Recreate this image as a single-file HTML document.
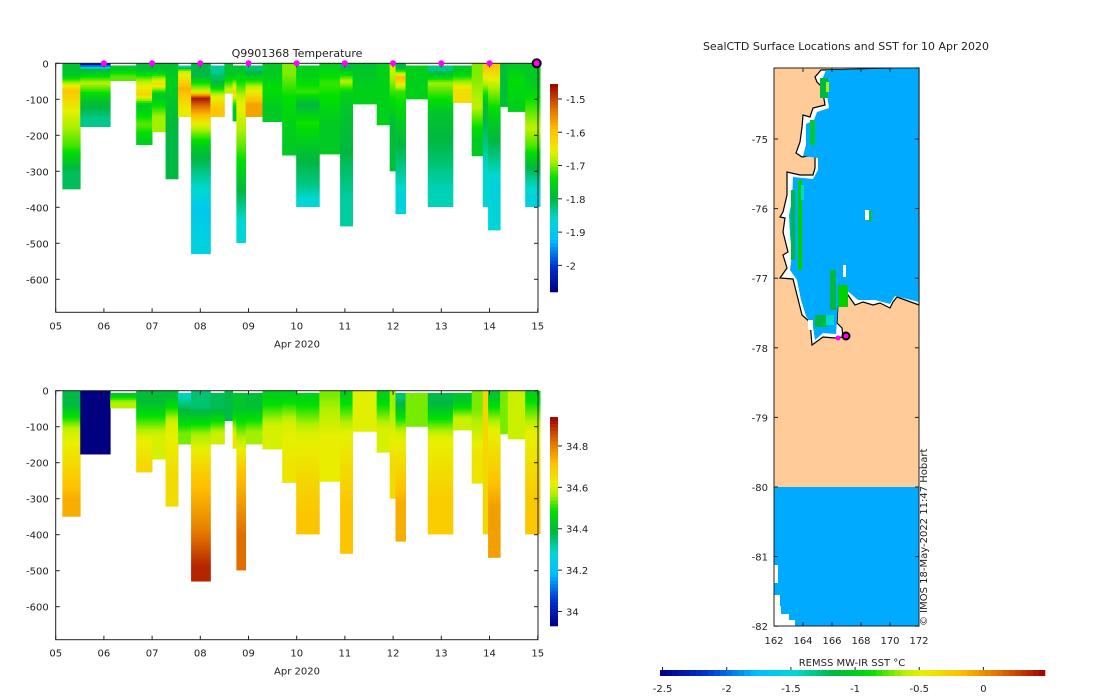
<!DOCTYPE html>
<html><head><meta charset="utf-8">
<style>
body{margin:0;background:#fff;}
svg{display:block;font-family:"DejaVu Sans","Liberation Sans",sans-serif;}
text{fill:#222;font-size:10px;}
</style></head>
<body>
<svg id="fig" width="1100" height="696" viewBox="0 0 1100 696" xmlns="http://www.w3.org/2000/svg">
<g id="top"></g>
<g id="bot"></g>
<g id="map"></g>
</svg>
<script>
// ---------- data ----------
const profStart=[0.14,0.51,1.13,1.67,2.0,2.28,2.54,2.81,3.21,3.5,3.67,3.75,3.94,4.29,4.7,4.99,5.47,5.9,6.16,6.66,6.93,7.05,7.26,7.72,8.24,8.63,8.86,8.97,9.22,9.38,9.74];
const profEnd=[0.51,1.13,1.67,2.0,2.28,2.54,2.81,3.21,3.5,3.67,3.75,3.94,4.29,4.7,4.99,5.47,5.9,6.16,6.66,6.93,7.05,7.26,7.72,8.24,8.63,8.86,8.97,9.22,9.38,9.74,10.05];
const profBottom=[349,176,48,226,190,321,148,529,148,83,160,498,148,162,255,398,252,452,113,171,299,418,99,398,109,257,398,463,120,134,398];
const tempDepths=[[0,65,85,210,255],[0,5,30,80,130],[6,25],[0,30,80,95,140,200],[0,40,75,105],[0,30,60],[6,12,30,110],[0,65,90,105,150,200,280,380,440],[6,25,80,105],[0,60],[6,55,100],[6,30,200,260,400],[6,30,50,80],[0,55,90],[0,60,140,200],[6,60,100,130,200,310,370],[0,30,80],[0,25,75,95,200,300],[0,30],[0],[0,20],[0,25,55,100,280,340],[6],[6,30,80,200,300],[6,40],[0,70,170],[0,20,200],[0,20,100,200,300,380],[0],[0,20,80],[0,100,140,220,250,300,350]];
const tempVals=[[-1.78,-1.6,-1.67,-1.72,-1.81],[-2.05,-1.8,-1.68,-1.78,-1.83],[-1.77,-1.71],[-1.79,-1.67,-1.62,-1.77,-1.71,-1.76],[-1.78,-1.63,-1.78,-1.69],[-1.78,-1.76,-1.8],[-1.85,-1.68,-1.58,-1.65],[-1.8,-1.67,-1.47,-1.55,-1.67,-1.78,-1.85,-1.9,-1.88],[-1.84,-1.8,-1.66,-1.6],[-1.78,-1.68],[-1.78,-1.62,-1.78],[-1.78,-1.65,-1.71,-1.78,-1.87],[-1.82,-1.76,-1.68,-1.57],[-1.77,-1.74,-1.77],[-1.7,-1.74,-1.76,-1.77],[-1.76,-1.72,-1.8,-1.73,-1.79,-1.83,-1.87],[-1.76,-1.72,-1.77],[-1.8,-1.68,-1.76,-1.78,-1.8,-1.84],[-1.78,-1.76],[-1.76],[-1.66,-1.79],[-1.8,-1.58,-1.72,-1.78,-1.84,-1.88],[-1.76],[-1.83,-1.69,-1.78,-1.81,-1.85],[-1.77,-1.63],[-1.7,-1.68,-1.77],[-1.6,-1.78,-1.86],[-1.6,-1.68,-1.76,-1.82,-1.88,-1.87],[-1.79],[-1.77,-1.74,-1.76],[-1.77,-1.72,-1.68,-1.72,-1.78,-1.84,-1.88]];
const salDepths=[[0,70,150,250],[0],[6,15],[0,60,200],[0,60],[0,30,150],[6,30,90],[0,90,150,300,450],[6,90],[0],[6,100],[6,100,150,300],[6,80],[0,40],[0,30,150],[6,30,200,300],[0,20],[0,30,200],[0],[0,40],[0,100],[6,40,200],[6],[6,60,200],[6,50],[0,100],[0],[0,30,180],[0],[0],[0,20,200]];
const salVals=[[34.38,34.59,34.66,34.74],[33.9],[34.42,34.57],[34.4,34.61,34.67],[34.4,34.6],[34.4,34.6,34.66],[34.3,34.4,34.54],[34.35,34.56,34.69,34.79,34.9],[34.37,34.59],[34.38],[34.42,34.64],[34.42,34.56,34.71,34.82],[34.4,34.56],[34.45,34.6],[34.45,34.6,34.64],[34.45,34.6,34.67,34.71],[34.54,34.62],[34.45,34.61,34.71],[34.61],[34.45,34.6],[34.56,34.66],[34.35,34.6,34.74],[34.54],[34.38,34.61,34.69],[34.42,34.59],[34.54,34.64],[34.67],[34.42,34.61,34.76],[34.54],[34.59],[34.45,34.61,34.7]];
const surfaceDays=[1,2,3,4,5,6,7,8,9];
const xTickLabels=["05","06","07","08","09","10","11","12","13","14","15"];
const yTicks=[0,-100,-200,-300,-400,-500,-600];
const tempCbTicks=[-1.5,-1.6,-1.7,-1.8,-1.9,-2];
const salCbTicks=[34.8,34.6,34.4,34.2,34];
const sstTicks=[-2.5,-2,-1.5,-1,-0.5,0];
const latTicks=[-75,-76,-77,-78,-79,-80,-81,-82];
const lonTicks=[162,164,166,168,170,172];

// ---------- helpers ----------
const NS="http://www.w3.org/2000/svg";
function mk(parent,tag,attrs,txt){const e=document.createElementNS(NS,tag);for(const k in attrs)e.setAttribute(k,attrs[k]);if(txt!==undefined)e.textContent=txt;parent.appendChild(e);return e;}
const stops=[[0,[0,0,128]],[0.12,[0,48,208]],[0.25,[0,191,255]],[0.35,[0,216,208]],[0.45,[0,184,64]],[0.55,[0,224,0]],[0.63,[176,240,0]],[0.68,[232,240,0]],[0.78,[255,192,0]],[0.88,[224,112,0]],[1,[160,0,0]]];
function cmap(f){f=Math.max(0,Math.min(1,f));for(let i=1;i<stops.length;i++){if(f<=stops[i][0]){const a=stops[i-1],b=stops[i];const t=(f-a[0])/(b[0]-a[0]);const c=a[1].map((v,j)=>Math.round(v+(b[1][j]-v)*t));return `rgb(${c[0]},${c[1]},${c[2]})`;}}return "rgb(160,0,0)";}
function valAt(ds,vs,bot,d){
  // node positions at segment midpoints, linear between
  const pos=ds.map((d0,j)=>{const d1=(j+1<ds.length)?ds[j+1]:bot;return (d0+d1)/2;});
  if(d<=pos[0])return vs[0];
  for(let j=1;j<pos.length;j++){if(d<=pos[j]){const t=(d-pos[j-1])/(pos[j]-pos[j-1]);return vs[j-1]+(vs[j]-vs[j-1])*t;}}
  return vs[vs.length-1];
}

const X0=55.7,DX=48.2;
function xs(d){return X0+d*DX;}
const R=538;

function panel(g,top,depths,vals,lo,hi,cbTop,cbBot,cbTicks,cbName,isTop){
  const ys=d=>top+d*0.36;
  const bottom=top+249;
  const BIN=5;
  for(let i=0;i<profStart.length;i++){
    const ds=depths[i],vs=vals[i];
    for(let d0=ds[0];d0<profBottom[i];d0+=BIN){
      const d1=Math.min(d0+BIN,profBottom[i]);
      const v=valAt(ds,vs,profBottom[i],(d0+d1)/2);
      const r=mk(g,"rect",{x:xs(profStart[i]).toFixed(1),y:ys(d0).toFixed(1),width:(xs(profEnd[i])-xs(profStart[i])+0.4).toFixed(1),height:(ys(d1)-ys(d0)+0.4).toFixed(2),fill:cmap((v-lo)/(hi-lo))});
      
      
    }
  }
  const fr=mk(g,"rect",{x:X0,y:top,width:R-X0,height:249,fill:"none",stroke:"#222","stroke-width":1});
  
  
  for(let k=0;k<xTickLabels.length;k++){
    const x=xs(k);
    mk(g,"line",{x1:x,y1:bottom,x2:x,y2:bottom-4,stroke:"#222"});
    mk(g,"line",{x1:x,y1:top,x2:x,y2:top+4,stroke:"#222"});
    const t=mk(g,"text",{x:x,y:bottom+17,"text-anchor":"middle"},xTickLabels[k]);
    
    
  }
  for(const v of yTicks){
    const y=ys(-v);
    mk(g,"line",{x1:X0,y1:y,x2:X0+4,y2:y,stroke:"#222"});
    mk(g,"line",{x1:R,y1:y,x2:R-4,y2:y,stroke:"#222"});
    const t=mk(g,"text",{x:X0-7,y:y+4,"text-anchor":"end"},String(v));
    
    
  }
  const xl=mk(g,"text",{x:297,y:bottom+35,"text-anchor":"middle"},"Apr 2020");
  
  
  const cb=mk(g,"g",{});
  
  
  const n=60,h=(cbBot-cbTop)/n;
  for(let k=0;k<n;k++){mk(cb,"rect",{x:550,y:(cbTop+k*h).toFixed(2),width:8,height:(h+0.3).toFixed(2),fill:cmap(1-(k+0.5)/n)});}
  for(const v of cbTicks){
    const y=cbTop+(hi-v)/(hi-lo)*(cbBot-cbTop);
    mk(cb,"line",{x1:558,y1:y,x2:562,y2:y,stroke:"#222"});
    mk(cb,"text",{x:566,y:y+4},String(v));
  }
  if(isTop){
    const tt=mk(g,"text",{x:297,y:57,"text-anchor":"middle",style:"font-size:11px"},"Q9901368  Temperature");
    
    
    for(const d of surfaceDays){
      const c=mk(g,"circle",{cx:xs(d),cy:top,r:3,fill:"#ff00ff"});
      
      
    }
    const c2=mk(g,"circle",{cx:xs(10)-1,cy:top,r:4,fill:"#ff00ff",stroke:"#000","stroke-width":2});
    
    
  }
}
const gT=document.getElementById("top"),gB=document.getElementById("bot");
panel(gT,63.3,tempDepths,tempVals,-2.08,-1.455,84,292,tempCbTicks,"temperature-colorbar",true);
panel(gB,390.7,salDepths,salVals,33.93,34.94,417,626,salCbTicks,"salinity-colorbar",false);

// ---------- map ----------
const gM=document.getElementById("map");
const MX0=774,MX1=919,MY0=68,MY1=626;
const lonX=l=>MX0+(l-162)*14.5;
function latYf(la){return 139+(-75-la)*69.6;}
mk(gM,"rect",{x:MX0,y:MY0,width:MX1-MX0,height:487-MY0,fill:"#ffcc99"});
const coast="821,70 815,77 817,82 822,87 825,105 813,108 810,117 803,115 802,127 800,142 796,153 802,157 815,155 815,168 813,175 800,175 787,172 787,195 783,212 780,217 785,218 783,232 788,252 783,255 787,268 780,278 793,279 797,295 802,315 810,322 812,345 823,337 835,338 843,337 842,328 837,323 838,303 842,292 848,295 855,305 863,302 873,305 880,303 890,308 893,302 897,297 919,305 919,68";
const cs=mk(gM,"polygon",{points:coast,fill:"#ffffff",stroke:"#000","stroke-width":1.2});


const sea="826,70 822,80 826,88 829,108 817,112 814,120 806,124 806,145 803,156 818,158 818,170 813,179 793,177 792,200 789,215 790,235 792,255 790,270 797,280 801,300 806,316 813,327 815,340 823,333 836,334 838,305 842,288 850,293 858,300 875,300 890,304 895,296 919,302 919,68";
const sp=mk(gM,"polygon",{points:sea,fill:"#00aaff"});


const greens=[[820,78,8,20,"#00b840"],[826,82,3,10,"#b0f000"],[810,120,5,25,"#00cc30"],[798,180,4,90,"#00d000"],[791,190,4,70,"#00b840"],[801,185,3,15,"#00d8d0"],[830,270,6,40,"#00b840"],[838,285,10,22,"#00d000"],[843,265,3,12,"#fff"],[815,315,12,12,"#00b840"],[826,315,8,10,"#00d8d0"],[865,210,4,10,"#fff"],[869,210,3,12,"#00c060"],[808,320,5,10,"#fff"]];
for(const q of greens){const r=mk(gM,"rect",{x:q[0],y:q[1],width:q[2],height:q[3],fill:q[4]});}
mk(gM,"rect",{x:MX0,y:487,width:MX1-MX0,height:MY1-487,fill:"#00aaff"});
for(const w of [[774,565,4,18],[774,595,6,11],[774,606,7,8],[774,614,15,6],[774,620,21,6]])mk(gM,"rect",{x:w[0],y:w[1],width:w[2],height:w[3],fill:"#fff"});
const m1=mk(gM,"circle",{cx:838,cy:338,r:2.5,fill:"#ff00ff"});


const m2=mk(gM,"circle",{cx:846,cy:336,r:3.5,fill:"#ff00ff",stroke:"#000","stroke-width":2});


const mf=mk(gM,"rect",{x:MX0,y:MY0,width:MX1-MX0,height:MY1-MY0,fill:"none",stroke:"#222"});


for(const la of latTicks){const y=latYf(la);mk(gM,"line",{x1:MX0,y1:y,x2:MX0+4,y2:y,stroke:"#222"});mk(gM,"line",{x1:MX1,y1:y,x2:MX1-4,y2:y,stroke:"#222"});
 const t=mk(gM,"text",{x:MX0-6,y:y+4,"text-anchor":"end"},String(la));}
for(const lo of lonTicks){const x=lonX(lo);mk(gM,"line",{x1:x,y1:MY1,x2:x,y2:MY1-4,stroke:"#222"});mk(gM,"line",{x1:x,y1:MY0,x2:x,y2:MY0+4,stroke:"#222"});
 const t=mk(gM,"text",{x:x,y:MY1+18,"text-anchor":"middle"},String(lo));}
const mt=mk(gM,"text",{x:846,y:50,"text-anchor":"middle",style:"font-size:11px"},"SealCTD Surface Locations and SST for 10 Apr 2020");


const cr=mk(gM,"text",{x:0,y:0,transform:"translate(927,626) rotate(-90)",style:"font-size:10px"},"© IMOS 18-May-2022 11:47 Hobart");


const sc=mk(gM,"g",{});


const SL=660,SR=1045,sLo=-2.52,sHi=0.48,nS=64;
for(let k=0;k<nS;k++){mk(sc,"rect",{x:(SL+k*(SR-SL)/nS).toFixed(2),y:670,width:((SR-SL)/nS+0.3).toFixed(2),height:6,fill:cmap((k+0.5)/nS)});}
for(const v of sstTicks){const x=SL+(v-sLo)/(sHi-sLo)*(SR-SL);mk(sc,"line",{x1:x,y1:670,x2:x,y2:667,stroke:"#222"});mk(sc,"text",{x:x,y:692,"text-anchor":"middle"},String(v));}
const sl=mk(gM,"text",{x:852,y:666,"text-anchor":"middle"},"REMSS MW-IR SST °C");


</script>
</body></html>
